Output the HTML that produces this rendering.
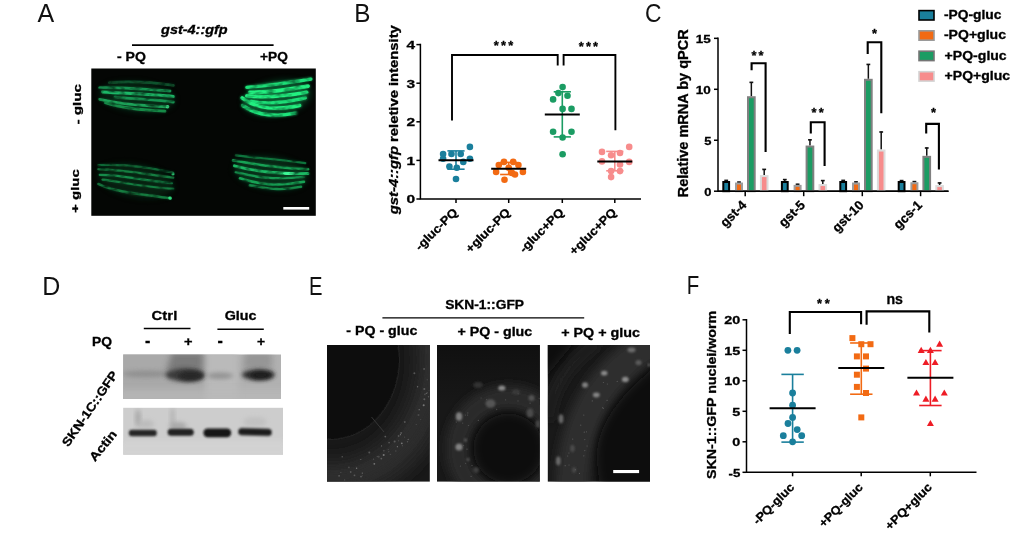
<!DOCTYPE html>
<html lang="en"><head><meta charset="utf-8"><title>Figure</title>
<style>
html,body{margin:0;padding:0;background:#fff;}
body{width:1020px;height:533px;overflow:hidden;}
svg{display:block;font-family:"Liberation Sans",sans-serif;}
text{stroke:#000;stroke-width:.3px;}
text.lt{stroke:none;}
</style></head><body>
<svg width="1020" height="533" viewBox="0 0 1020 533">
<defs>
<filter id="b06" x="-20%" y="-50%" width="140%" height="200%"><feGaussianBlur stdDeviation="0.6"/></filter>
<filter id="b1" x="-20%" y="-50%" width="140%" height="200%"><feGaussianBlur stdDeviation="1"/></filter>
<filter id="b2" x="-30%" y="-80%" width="160%" height="260%"><feGaussianBlur stdDeviation="2"/></filter>
<filter id="b3" x="-30%" y="-80%" width="160%" height="260%"><feGaussianBlur stdDeviation="3"/></filter>
<filter id="b5" x="-50%" y="-50%" width="200%" height="200%"><feGaussianBlur stdDeviation="5"/></filter>
<filter id="b8" x="-50%" y="-50%" width="200%" height="200%"><feGaussianBlur stdDeviation="8"/></filter>
<clipPath id="cA"><rect x="91.3" y="68.5" width="224.5" height="147.3"/></clipPath>
<clipPath id="cD1"><rect x="123.2" y="354.5" width="157.8" height="44.4"/></clipPath>
<clipPath id="cD2"><rect x="123.2" y="407.8" width="159.8" height="47"/></clipPath>
<clipPath id="cE1"><rect x="327" y="345" width="102.8" height="136.6"/></clipPath>
<clipPath id="cE2"><rect x="437" y="345" width="102.8" height="136.6"/></clipPath>
<clipPath id="cE3"><rect x="547.8" y="345" width="102.2" height="136.6"/></clipPath>
<linearGradient id="gE2" x1="0" y1="0" x2="0" y2="1"><stop offset="0" stop-color="#101010"/><stop offset="0.5" stop-color="#141414"/><stop offset="1" stop-color="#181818"/></linearGradient>
<filter id="grain" x="0" y="0" width="100%" height="100%" filterUnits="objectBoundingBox">
<feGaussianBlur in="SourceGraphic" stdDeviation="0.55" result="blur"/>
<feTurbulence type="fractalNoise" baseFrequency="0.12 0.26" numOctaves="2" seed="4" result="noise"/>
<feColorMatrix in="noise" type="matrix" values="0 0 0 0 0  0 0 0 0 0  0 0 0 0 0  2.4 0 0 0 -0.4" result="nalpha"/>
<feComposite in="blur" in2="nalpha" operator="in" result="cmp"/>
<feGaussianBlur in="cmp" stdDeviation="0.45"/>
</filter>
</defs>
<rect width="1020" height="533" fill="#fff"/>

<text x="37.5" y="22" font-size="25" font-weight="normal" text-anchor="start" fill="#111" class="lt">A</text>
<text x="354.2" y="22" font-size="25" font-weight="normal" text-anchor="start" fill="#111" textLength="16.2" lengthAdjust="spacingAndGlyphs" class="lt">B</text>
<text x="645" y="22" font-size="25" font-weight="normal" text-anchor="start" fill="#111" textLength="16.5" lengthAdjust="spacingAndGlyphs" class="lt">C</text>
<text x="42.2" y="294.5" font-size="25" font-weight="normal" text-anchor="start" fill="#111" class="lt">D</text>
<text x="308.9" y="294.5" font-size="25" font-weight="normal" text-anchor="start" fill="#111" textLength="13.5" lengthAdjust="spacingAndGlyphs" class="lt">E</text>
<text x="686.7" y="294" font-size="25" font-weight="normal" text-anchor="start" fill="#111" textLength="12.5" lengthAdjust="spacingAndGlyphs" class="lt">F</text>
<g id="panelA">
<text x="161.1" y="34.2" font-size="12.3" font-weight="bold" text-anchor="start" fill="#000" font-style="italic" textLength="66.6" lengthAdjust="spacingAndGlyphs">gst-4::gfp</text>
<line x1="132" y1="45.1" x2="273.6" y2="45.1" stroke="#000" stroke-width="1.6" stroke-linecap="butt"/>
<text x="117.0" y="60.8" font-size="12.2" font-weight="bold" text-anchor="start" fill="#000" textLength="28.9" lengthAdjust="spacingAndGlyphs">- PQ</text>
<text x="260.0" y="60.8" font-size="12.2" font-weight="bold" text-anchor="start" fill="#000" textLength="27.8" lengthAdjust="spacingAndGlyphs">+PQ</text>
<text x="80.5" y="124.5" font-size="11.5" font-weight="bold" text-anchor="start" fill="#000" transform="rotate(-90 80.5 124.5)" textLength="40.4" lengthAdjust="spacingAndGlyphs">- gluc</text>
<text x="78.6" y="212.9" font-size="11.5" font-weight="bold" text-anchor="start" fill="#000" transform="rotate(-90 78.6 212.9)" textLength="43.8" lengthAdjust="spacingAndGlyphs">+ gluc</text>
<rect x="91.3" y="68.5" width="224.5" height="147.3" fill="#040604"/>
<g clip-path="url(#cA)">
<ellipse cx="137" cy="97" rx="38" ry="15" fill="#0a4a28" opacity="0.4" filter="url(#b3)" transform="rotate(6 137 97)"/>
<ellipse cx="277" cy="98" rx="34" ry="17" fill="#0c6a3a" opacity="0.5" filter="url(#b3)" transform="rotate(-10 277 98)"/>
<ellipse cx="136" cy="181" rx="38" ry="16" fill="#08391f" opacity="0.5" filter="url(#b3)" transform="rotate(10 136 181)"/>
<ellipse cx="271" cy="173" rx="37" ry="16" fill="#0a4a28" opacity="0.5" filter="url(#b3)" transform="rotate(8 271 173)"/>
<path d="M246.9,87.4 C270.6,85.4 292.8,81.9 310.8,79.1" stroke="#1ee078" stroke-width="4.0" stroke-linecap="round" fill="none" opacity="0.5" filter="url(#b1)"/>
<path d="M249.7,92.3 C270.6,92.8 291.4,88.8 308.1,86.1" stroke="#22f080" stroke-width="4.2" stroke-linecap="round" fill="none" opacity="0.5" filter="url(#b1)"/>
<path d="M246.9,95.8 C267.8,98.4 287.2,95.8 306.7,92.3" stroke="#22f080" stroke-width="4.2" stroke-linecap="round" fill="none" opacity="0.5" filter="url(#b1)"/>
<path d="M251.1,101.3 C270.6,105 288.6,102 305.3,97.9" stroke="#1ee078" stroke-width="3.8000000000000003" stroke-linecap="round" fill="none" opacity="0.5" filter="url(#b1)"/>
<path d="M242.1,97.9 C253.9,107.5 273.3,110.8 299.7,105.5" stroke="#22f080" stroke-width="4.0" stroke-linecap="round" fill="none" opacity="0.5" filter="url(#b1)"/>
<path d="M242.8,105.5 C256.7,115.5 273.3,117.5 295.6,113.1" stroke="#1ee47a" stroke-width="4.0" stroke-linecap="round" fill="none" opacity="0.5" filter="url(#b1)"/>
<path d="M235.8,155.4 C256.7,158.2 277.5,158.9 305.3,163.1" stroke="#0f7a40" stroke-width="2.6" stroke-linecap="round" fill="none" opacity="0.3" filter="url(#b1)"/>
<path d="M233.1,160.3 C253.9,164.4 274.7,167.9 308.1,169.3" stroke="#16a858" stroke-width="3.0" stroke-linecap="round" fill="none" opacity="0.3" filter="url(#b1)"/>
<path d="M234.4,165.8 C256.7,172.1 277.5,174.2 308.1,173.5" stroke="#1bc068" stroke-width="3.1999999999999997" stroke-linecap="round" fill="none" opacity="0.3" filter="url(#b1)"/>
<path d="M235.8,172.1 C256.7,177.6 273.3,179.7 303.9,176.9" stroke="#14a055" stroke-width="2.8" stroke-linecap="round" fill="none" opacity="0.3" filter="url(#b1)"/>
<path d="M240,178.3 C259.4,184.6 277.5,186.7 303.9,181.8" stroke="#16a858" stroke-width="3.0" stroke-linecap="round" fill="none" opacity="0.3" filter="url(#b1)"/>
<path d="M249.7,185.3 C267.8,188.1 277.5,191.5 301.1,186.7" stroke="#12904c" stroke-width="2.8" stroke-linecap="round" fill="none" opacity="0.3" filter="url(#b1)"/>
<path d="M109.4,82.6 C125,81.5 150,81.9 173.3,85.4" stroke="#0d5a30" stroke-width="3.1999999999999997" stroke-linecap="round" fill="none" opacity="0.3" filter="url(#b1)"/>
<path d="M99.7,87.7 C124.7,87.0 145.6,89.5 170,91" stroke="#18a058" stroke-width="3.1999999999999997" stroke-linecap="round" fill="none" opacity="0.3" filter="url(#b1)"/>
<path d="M102.5,91.9 C131.7,93.7 152.5,94.4 173.3,96.5" stroke="#1fc870" stroke-width="3.4" stroke-linecap="round" fill="none" opacity="0.3" filter="url(#b1)"/>
<path d="M115,97.2 C138.6,99.3 159.4,99.9 173.3,102" stroke="#18a058" stroke-width="3.1999999999999997" stroke-linecap="round" fill="none" opacity="0.3" filter="url(#b1)"/>
<path d="M99.7,99.3 C117.8,103.4 138.6,105.5 167.8,106.9" stroke="#1bb060" stroke-width="3.1999999999999997" stroke-linecap="round" fill="none" opacity="0.3" filter="url(#b1)"/>
<path d="M105.3,102.7 C124.7,109 145.6,110.4 165,111.1" stroke="#169850" stroke-width="3.1999999999999997" stroke-linecap="round" fill="none" opacity="0.3" filter="url(#b1)"/>
<path d="M98.3,165.1 C124.7,163.8 152.5,167.9 173.3,172.8" stroke="#0f7a40" stroke-width="2.6" stroke-linecap="round" fill="none" opacity="0.25" filter="url(#b1)"/>
<path d="M98.3,169.3 C124.7,169.3 148.3,174.9 173.3,177.6" stroke="#12904c" stroke-width="2.6" stroke-linecap="round" fill="none" opacity="0.25" filter="url(#b1)"/>
<path d="M99.7,174.9 C124.7,174.9 145.6,181.1 171.9,183.2" stroke="#14a055" stroke-width="2.6" stroke-linecap="round" fill="none" opacity="0.25" filter="url(#b1)"/>
<path d="M102.5,179.7 C117.8,181.1 138.6,186.7 173.3,188.8" stroke="#12904c" stroke-width="2.6" stroke-linecap="round" fill="none" opacity="0.25" filter="url(#b1)"/>
<path d="M98.3,183.9 C115,192.2 138.6,193.6 170.6,198.5" stroke="#12904c" stroke-width="2.8" stroke-linecap="round" fill="none" opacity="0.25" filter="url(#b1)"/>
<g filter="url(#grain)">
<rect x="91" y="68" width="225" height="148" fill="none"/>
<path d="M109.4,82.6 C125,81.5 150,81.9 173.3,85.4" stroke="#0d5a30" stroke-width="2.8" stroke-linecap="round" fill="none" opacity="0.88" filter="url(#b06)"/>
<path d="M99.7,87.7 C124.7,87.0 145.6,89.5 170,91" stroke="#18a058" stroke-width="2.8" stroke-linecap="round" fill="none" opacity="0.88" filter="url(#b06)"/>
<path d="M102.5,91.9 C131.7,93.7 152.5,94.4 173.3,96.5" stroke="#1fc870" stroke-width="3.0" stroke-linecap="round" fill="none" opacity="0.88" filter="url(#b06)"/>
<path d="M115,97.2 C138.6,99.3 159.4,99.9 173.3,102" stroke="#18a058" stroke-width="2.8" stroke-linecap="round" fill="none" opacity="0.88" filter="url(#b06)"/>
<path d="M99.7,99.3 C117.8,103.4 138.6,105.5 167.8,106.9" stroke="#1bb060" stroke-width="2.8" stroke-linecap="round" fill="none" opacity="0.88" filter="url(#b06)"/>
<path d="M105.3,102.7 C124.7,109 145.6,110.4 165,111.1" stroke="#169850" stroke-width="2.8" stroke-linecap="round" fill="none" opacity="0.88" filter="url(#b06)"/>
<circle cx="167.5" cy="106.8" r="1.8" fill="#40f090" filter="url(#b06)"/>
<path d="M246.9,87.4 C270.6,85.4 292.8,81.9 310.8,79.1" stroke="#1ee078" stroke-width="3.4" stroke-linecap="round" fill="none" opacity="1" filter="url(#b06)"/>
<path d="M249.7,92.3 C270.6,92.8 291.4,88.8 308.1,86.1" stroke="#22f080" stroke-width="3.6" stroke-linecap="round" fill="none" opacity="1" filter="url(#b06)"/>
<path d="M246.9,95.8 C267.8,98.4 287.2,95.8 306.7,92.3" stroke="#22f080" stroke-width="3.6" stroke-linecap="round" fill="none" opacity="1" filter="url(#b06)"/>
<path d="M251.1,101.3 C270.6,105 288.6,102 305.3,97.9" stroke="#1ee078" stroke-width="3.2" stroke-linecap="round" fill="none" opacity="1" filter="url(#b06)"/>
<path d="M242.1,97.9 C253.9,107.5 273.3,110.8 299.7,105.5" stroke="#22f080" stroke-width="3.4" stroke-linecap="round" fill="none" opacity="1" filter="url(#b06)"/>
<path d="M242.8,105.5 C256.7,115.5 273.3,117.5 295.6,113.1" stroke="#1ee47a" stroke-width="3.4" stroke-linecap="round" fill="none" opacity="1" filter="url(#b06)"/>
<path d="M98.3,165.1 C124.7,163.8 152.5,167.9 173.3,172.8" stroke="#0f7a40" stroke-width="2.2" stroke-linecap="round" fill="none" opacity="0.8" filter="url(#b06)"/>
<path d="M98.3,169.3 C124.7,169.3 148.3,174.9 173.3,177.6" stroke="#12904c" stroke-width="2.2" stroke-linecap="round" fill="none" opacity="0.8" filter="url(#b06)"/>
<path d="M99.7,174.9 C124.7,174.9 145.6,181.1 171.9,183.2" stroke="#14a055" stroke-width="2.2" stroke-linecap="round" fill="none" opacity="0.8" filter="url(#b06)"/>
<path d="M102.5,179.7 C117.8,181.1 138.6,186.7 173.3,188.8" stroke="#12904c" stroke-width="2.2" stroke-linecap="round" fill="none" opacity="0.8" filter="url(#b06)"/>
<path d="M98.3,183.9 C115,192.2 138.6,193.6 170.6,198.5" stroke="#12904c" stroke-width="2.4" stroke-linecap="round" fill="none" opacity="0.8" filter="url(#b06)"/>
<circle cx="173" cy="174" r="1.6" fill="#30e080" filter="url(#b06)"/>
<circle cx="170" cy="198" r="1.8" fill="#30e080" filter="url(#b06)"/>
<path d="M235.8,155.4 C256.7,158.2 277.5,158.9 305.3,163.1" stroke="#0f7a40" stroke-width="2.2" stroke-linecap="round" fill="none" opacity="0.95" filter="url(#b06)"/>
<path d="M233.1,160.3 C253.9,164.4 274.7,167.9 308.1,169.3" stroke="#16a858" stroke-width="2.6" stroke-linecap="round" fill="none" opacity="0.95" filter="url(#b06)"/>
<path d="M234.4,165.8 C256.7,172.1 277.5,174.2 308.1,173.5" stroke="#1bc068" stroke-width="2.8" stroke-linecap="round" fill="none" opacity="0.95" filter="url(#b06)"/>
<path d="M235.8,172.1 C256.7,177.6 273.3,179.7 303.9,176.9" stroke="#14a055" stroke-width="2.4" stroke-linecap="round" fill="none" opacity="0.95" filter="url(#b06)"/>
<path d="M240,178.3 C259.4,184.6 277.5,186.7 303.9,181.8" stroke="#16a858" stroke-width="2.6" stroke-linecap="round" fill="none" opacity="0.95" filter="url(#b06)"/>
<path d="M249.7,185.3 C267.8,188.1 277.5,191.5 301.1,186.7" stroke="#12904c" stroke-width="2.4" stroke-linecap="round" fill="none" opacity="0.95" filter="url(#b06)"/>
<ellipse cx="289" cy="173.5" rx="6" ry="1.6" fill="#40f898" filter="url(#b06)"/>
</g>
</g>
<rect x="283.3" y="207" width="25.9" height="2.6" fill="#fff"/>
</g>
<g id="panelB">
<path d="M420.4,43.85 V199.0 H641" stroke="#000" stroke-width="1.5" fill="none" />
<line x1="416.4" y1="199.0" x2="420.4" y2="199.0" stroke="#000" stroke-width="1.5" stroke-linecap="butt"/>
<text x="406.5" y="203.3" font-size="11.5" font-weight="bold" text-anchor="start" fill="#000" textLength="8.6" lengthAdjust="spacingAndGlyphs">0</text>
<line x1="416.4" y1="160.4" x2="420.4" y2="160.4" stroke="#000" stroke-width="1.5" stroke-linecap="butt"/>
<text x="406.5" y="164.70000000000002" font-size="11.5" font-weight="bold" text-anchor="start" fill="#000" textLength="8.6" lengthAdjust="spacingAndGlyphs">1</text>
<line x1="416.4" y1="121.8" x2="420.4" y2="121.8" stroke="#000" stroke-width="1.5" stroke-linecap="butt"/>
<text x="406.5" y="126.1" font-size="11.5" font-weight="bold" text-anchor="start" fill="#000" textLength="8.6" lengthAdjust="spacingAndGlyphs">2</text>
<line x1="416.4" y1="83.2" x2="420.4" y2="83.2" stroke="#000" stroke-width="1.5" stroke-linecap="butt"/>
<text x="406.5" y="87.5" font-size="11.5" font-weight="bold" text-anchor="start" fill="#000" textLength="8.6" lengthAdjust="spacingAndGlyphs">3</text>
<line x1="416.4" y1="44.6" x2="420.4" y2="44.6" stroke="#000" stroke-width="1.5" stroke-linecap="butt"/>
<text x="406.5" y="48.9" font-size="11.5" font-weight="bold" text-anchor="start" fill="#000" textLength="8.6" lengthAdjust="spacingAndGlyphs">4</text>
<line x1="456" y1="199.0" x2="456" y2="203.0" stroke="#000" stroke-width="1.5" stroke-linecap="butt"/>
<line x1="508.7" y1="199.0" x2="508.7" y2="203.0" stroke="#000" stroke-width="1.5" stroke-linecap="butt"/>
<line x1="562.3" y1="199.0" x2="562.3" y2="203.0" stroke="#000" stroke-width="1.5" stroke-linecap="butt"/>
<line x1="614.8" y1="199.0" x2="614.8" y2="203.0" stroke="#000" stroke-width="1.5" stroke-linecap="butt"/>
<text x="397.8" y="214.2" font-size="12" font-weight="bold" fill="#000" transform="rotate(-90 397.8 214.2)" textLength="189" lengthAdjust="spacingAndGlyphs"><tspan font-style="italic">gst-4::gfp</tspan> reletive intensity</text>
<circle cx="469.9" cy="146.9" r="3.3" fill="#1a7f9c"/>
<circle cx="443.1" cy="154" r="3.3" fill="#1a7f9c"/>
<circle cx="451.5" cy="154" r="3.3" fill="#1a7f9c"/>
<circle cx="460.7" cy="154" r="3.3" fill="#1a7f9c"/>
<circle cx="443.1" cy="158.8" r="3.3" fill="#1a7f9c"/>
<circle cx="469.9" cy="158.7" r="3.3" fill="#1a7f9c"/>
<circle cx="463.3" cy="161.9" r="3.3" fill="#1a7f9c"/>
<circle cx="449.4" cy="166.6" r="3.3" fill="#1a7f9c"/>
<circle cx="456.8" cy="167.7" r="3.3" fill="#1a7f9c"/>
<circle cx="456" cy="179" r="3.3" fill="#1a7f9c"/>
<line x1="456" y1="150.9" x2="456" y2="169.2" stroke="#1a7f9c" stroke-width="1.6" stroke-linecap="butt"/>
<line x1="447.4" y1="150.9" x2="464.6" y2="150.9" stroke="#1a7f9c" stroke-width="1.6" stroke-linecap="butt"/>
<line x1="447.4" y1="169.2" x2="464.6" y2="169.2" stroke="#1a7f9c" stroke-width="1.6" stroke-linecap="butt"/>
<line x1="438.5" y1="160.3" x2="473.5" y2="160.3" stroke="#000" stroke-width="2.0" stroke-linecap="butt"/>
<circle cx="504" cy="161.9" r="3.3" fill="#f26a13"/>
<circle cx="513.2" cy="161.9" r="3.3" fill="#f26a13"/>
<circle cx="498.8" cy="165" r="3.3" fill="#f26a13"/>
<circle cx="518.4" cy="165" r="3.3" fill="#f26a13"/>
<circle cx="508.7" cy="167.7" r="3.3" fill="#f26a13"/>
<circle cx="496.1" cy="171.9" r="3.3" fill="#f26a13"/>
<circle cx="522.9" cy="171.9" r="3.3" fill="#f26a13"/>
<circle cx="511.9" cy="172.9" r="3.3" fill="#f26a13"/>
<circle cx="515" cy="174.5" r="3.3" fill="#f26a13"/>
<circle cx="504.5" cy="179.7" r="3.3" fill="#f26a13"/>
<line x1="508.7" y1="162.4" x2="508.7" y2="174.5" stroke="#f26a13" stroke-width="1.6" stroke-linecap="butt"/>
<line x1="500.09999999999997" y1="162.4" x2="517.3" y2="162.4" stroke="#f26a13" stroke-width="1.6" stroke-linecap="butt"/>
<line x1="500.09999999999997" y1="174.5" x2="517.3" y2="174.5" stroke="#f26a13" stroke-width="1.6" stroke-linecap="butt"/>
<line x1="491.2" y1="168.7" x2="526.2" y2="168.7" stroke="#000" stroke-width="2.0" stroke-linecap="butt"/>
<circle cx="562.6" cy="87.1" r="3.3" fill="#1b9c63"/>
<circle cx="558.4" cy="93.1" r="3.3" fill="#1b9c63"/>
<circle cx="567.5" cy="95.7" r="3.3" fill="#1b9c63"/>
<circle cx="553.1" cy="99.4" r="3.3" fill="#1b9c63"/>
<circle cx="562.6" cy="108.9" r="3.3" fill="#1b9c63"/>
<circle cx="571.5" cy="108.9" r="3.3" fill="#1b9c63"/>
<circle cx="553.1" cy="131.7" r="3.3" fill="#1b9c63"/>
<circle cx="571.5" cy="131.7" r="3.3" fill="#1b9c63"/>
<circle cx="562.6" cy="137.5" r="3.3" fill="#1b9c63"/>
<circle cx="562.6" cy="154.3" r="3.3" fill="#1b9c63"/>
<line x1="562.3" y1="91.8" x2="562.3" y2="136.9" stroke="#1b9c63" stroke-width="1.6" stroke-linecap="butt"/>
<line x1="553.6999999999999" y1="91.8" x2="570.9" y2="91.8" stroke="#1b9c63" stroke-width="1.6" stroke-linecap="butt"/>
<line x1="553.6999999999999" y1="136.9" x2="570.9" y2="136.9" stroke="#1b9c63" stroke-width="1.6" stroke-linecap="butt"/>
<line x1="544.8" y1="114.6" x2="579.8" y2="114.6" stroke="#000" stroke-width="2.0" stroke-linecap="butt"/>
<circle cx="629.2" cy="146.9" r="3.3" fill="#f78c8c"/>
<circle cx="602" cy="151.9" r="3.3" fill="#f78c8c"/>
<circle cx="620" cy="153" r="3.3" fill="#f78c8c"/>
<circle cx="611.1" cy="155.3" r="3.3" fill="#f78c8c"/>
<circle cx="602" cy="161.4" r="3.3" fill="#f78c8c"/>
<circle cx="629.2" cy="161.9" r="3.3" fill="#f78c8c"/>
<circle cx="620" cy="164.5" r="3.3" fill="#f78c8c"/>
<circle cx="611.1" cy="171.1" r="3.3" fill="#f78c8c"/>
<circle cx="620" cy="171.1" r="3.3" fill="#f78c8c"/>
<circle cx="611.1" cy="177.1" r="3.3" fill="#f78c8c"/>
<line x1="614.8" y1="151.4" x2="614.8" y2="170.8" stroke="#f78c8c" stroke-width="1.6" stroke-linecap="butt"/>
<line x1="606.1999999999999" y1="151.4" x2="623.4" y2="151.4" stroke="#f78c8c" stroke-width="1.6" stroke-linecap="butt"/>
<line x1="606.1999999999999" y1="170.8" x2="623.4" y2="170.8" stroke="#f78c8c" stroke-width="1.6" stroke-linecap="butt"/>
<line x1="597.3" y1="161.4" x2="632.3" y2="161.4" stroke="#000" stroke-width="2.0" stroke-linecap="butt"/>
<path d="M452,120.6 V55 H557.7 V65.4" stroke="#000" stroke-width="1.9" fill="none" />
<path d="M563.6,65.4 V55 H615.4 V130.3" stroke="#000" stroke-width="1.9" fill="none" />
<text x="493.8" y="50.3" font-size="12.8" font-weight="bold" text-anchor="start" fill="#000" textLength="19.4" lengthAdjust="spacing">***</text>
<text x="578.8" y="50.8" font-size="12.8" font-weight="bold" text-anchor="start" fill="#000" textLength="19.3" lengthAdjust="spacing">***</text>
<text x="458.3" y="213" font-size="12" font-weight="bold" text-anchor="end" fill="#000" transform="rotate(-45 458.3 213)" textLength="54" lengthAdjust="spacingAndGlyphs">-gluc-PQ</text>
<text x="511.0" y="213" font-size="12" font-weight="bold" text-anchor="end" fill="#000" transform="rotate(-45 511.0 213)" textLength="57.2" lengthAdjust="spacingAndGlyphs">+gluc-PQ</text>
<text x="564.5999999999999" y="213" font-size="12" font-weight="bold" text-anchor="end" fill="#000" transform="rotate(-45 564.5999999999999 213)" textLength="57.2" lengthAdjust="spacingAndGlyphs">-gluc+PQ</text>
<text x="617.0999999999999" y="213" font-size="12" font-weight="bold" text-anchor="end" fill="#000" transform="rotate(-45 617.0999999999999 213)" textLength="60.5" lengthAdjust="spacingAndGlyphs">+gluc+PQ</text>
</g>
<g id="panelC">
<path d="M718.0,37.6 V191.2 H948.5" stroke="#000" stroke-width="1.5" fill="none" />
<line x1="714.0" y1="191.2" x2="718.0" y2="191.2" stroke="#000" stroke-width="1.5" stroke-linecap="butt"/>
<text x="704.2" y="195.6" font-size="11.7" font-weight="bold" text-anchor="start" fill="#000" textLength="7.2" lengthAdjust="spacingAndGlyphs">0</text>
<line x1="714.0" y1="140.25" x2="718.0" y2="140.25" stroke="#000" stroke-width="1.5" stroke-linecap="butt"/>
<text x="704.2" y="144.65" font-size="11.7" font-weight="bold" text-anchor="start" fill="#000" textLength="7.2" lengthAdjust="spacingAndGlyphs">5</text>
<line x1="714.0" y1="89.3" x2="718.0" y2="89.3" stroke="#000" stroke-width="1.5" stroke-linecap="butt"/>
<text x="695.8" y="93.7" font-size="11.7" font-weight="bold" text-anchor="start" fill="#000" textLength="15.0" lengthAdjust="spacingAndGlyphs">10</text>
<line x1="714.0" y1="38.35" x2="718.0" y2="38.35" stroke="#000" stroke-width="1.5" stroke-linecap="butt"/>
<text x="695.8" y="42.75" font-size="11.7" font-weight="bold" text-anchor="start" fill="#000" textLength="15.0" lengthAdjust="spacingAndGlyphs">15</text>
<line x1="745.2" y1="191.2" x2="745.2" y2="196.2" stroke="#000" stroke-width="1.5" stroke-linecap="butt"/>
<line x1="803.7" y1="191.2" x2="803.7" y2="196.2" stroke="#000" stroke-width="1.5" stroke-linecap="butt"/>
<line x1="862.3" y1="191.2" x2="862.3" y2="196.2" stroke="#000" stroke-width="1.5" stroke-linecap="butt"/>
<line x1="920.6" y1="191.2" x2="920.6" y2="196.2" stroke="#000" stroke-width="1.5" stroke-linecap="butt"/>
<text x="688.4" y="197.2" font-size="14" font-weight="bold" text-anchor="start" fill="#000" transform="rotate(-90 688.4 197.2)" textLength="167.9" lengthAdjust="spacingAndGlyphs">Relative mRNA by qPCR</text>
<line x1="726.1999999999999" y1="179.99" x2="726.1999999999999" y2="181.01" stroke="#111" stroke-width="1.5" stroke-linecap="butt"/>
<line x1="724.3" y1="180.39000000000001" x2="728.0999999999999" y2="180.39000000000001" stroke="#111" stroke-width="1.6" stroke-linecap="butt"/>
<rect x="723.30" y="182.01" width="5.80" height="9.19" fill="#1a7f9c" stroke="#000" stroke-width="2.0"/>
<line x1="739.0" y1="181.72" x2="739.0" y2="182.54" stroke="#111" stroke-width="1.5" stroke-linecap="butt"/>
<line x1="737.1" y1="182.12" x2="740.9" y2="182.12" stroke="#111" stroke-width="1.6" stroke-linecap="butt"/>
<rect x="736.00" y="183.54" width="6.00" height="7.66" fill="#f26a13" stroke="#9c9c9c" stroke-width="2.0"/>
<line x1="751.35" y1="81.96" x2="751.35" y2="96.23" stroke="#111" stroke-width="1.5" stroke-linecap="butt"/>
<line x1="749.45" y1="82.36" x2="753.25" y2="82.36" stroke="#111" stroke-width="1.6" stroke-linecap="butt"/>
<rect x="748.00" y="97.23" width="6.70" height="93.97" fill="#1b9c63" stroke="#808080" stroke-width="2.0"/>
<line x1="764.1999999999999" y1="168.99" x2="764.1999999999999" y2="175.1" stroke="#111" stroke-width="1.5" stroke-linecap="butt"/>
<line x1="762.3" y1="169.39000000000001" x2="766.0999999999999" y2="169.39000000000001" stroke="#111" stroke-width="1.6" stroke-linecap="butt"/>
<rect x="760.90" y="176.10" width="6.60" height="15.10" fill="#f78c8c" stroke="#dcdcdc" stroke-width="2.0"/>
<line x1="784.8" y1="179.18" x2="784.8" y2="181.01" stroke="#111" stroke-width="1.5" stroke-linecap="butt"/>
<line x1="782.9" y1="179.58" x2="786.6999999999999" y2="179.58" stroke="#111" stroke-width="1.6" stroke-linecap="butt"/>
<rect x="781.90" y="182.01" width="5.80" height="9.19" fill="#1a7f9c" stroke="#000" stroke-width="2.0"/>
<line x1="797.6" y1="183.86" x2="797.6" y2="184.88" stroke="#111" stroke-width="1.5" stroke-linecap="butt"/>
<line x1="795.7" y1="184.26000000000002" x2="799.5" y2="184.26000000000002" stroke="#111" stroke-width="1.6" stroke-linecap="butt"/>
<rect x="794.60" y="185.88" width="6.00" height="5.32" fill="#f26a13" stroke="#9c9c9c" stroke-width="2.0"/>
<line x1="809.95" y1="139.43" x2="809.95" y2="145.55" stroke="#111" stroke-width="1.5" stroke-linecap="butt"/>
<line x1="808.0500000000001" y1="139.83" x2="811.85" y2="139.83" stroke="#111" stroke-width="1.6" stroke-linecap="butt"/>
<rect x="806.60" y="146.55" width="6.70" height="44.65" fill="#1b9c63" stroke="#808080" stroke-width="2.0"/>
<line x1="822.8" y1="180.19" x2="822.8" y2="184.07" stroke="#111" stroke-width="1.5" stroke-linecap="butt"/>
<line x1="820.9" y1="180.59" x2="824.6999999999999" y2="180.59" stroke="#111" stroke-width="1.6" stroke-linecap="butt"/>
<rect x="819.50" y="185.07" width="6.60" height="6.13" fill="#f78c8c" stroke="#dcdcdc" stroke-width="2.0"/>
<line x1="843.1999999999999" y1="179.99" x2="843.1999999999999" y2="181.01" stroke="#111" stroke-width="1.5" stroke-linecap="butt"/>
<line x1="841.3" y1="180.39000000000001" x2="845.0999999999999" y2="180.39000000000001" stroke="#111" stroke-width="1.6" stroke-linecap="butt"/>
<rect x="840.30" y="182.01" width="5.80" height="9.19" fill="#1a7f9c" stroke="#000" stroke-width="2.0"/>
<line x1="856.0" y1="181.52" x2="856.0" y2="182.54" stroke="#111" stroke-width="1.5" stroke-linecap="butt"/>
<line x1="854.1" y1="181.92000000000002" x2="857.9" y2="181.92000000000002" stroke="#111" stroke-width="1.6" stroke-linecap="butt"/>
<rect x="853.00" y="183.54" width="6.00" height="7.66" fill="#f26a13" stroke="#9c9c9c" stroke-width="2.0"/>
<line x1="868.35" y1="64.03" x2="868.35" y2="78.8" stroke="#111" stroke-width="1.5" stroke-linecap="butt"/>
<line x1="866.45" y1="64.43" x2="870.25" y2="64.43" stroke="#111" stroke-width="1.6" stroke-linecap="butt"/>
<rect x="865.00" y="79.80" width="6.70" height="111.40" fill="#1b9c63" stroke="#808080" stroke-width="2.0"/>
<line x1="881.1999999999999" y1="131.59" x2="881.1999999999999" y2="149.52" stroke="#111" stroke-width="1.5" stroke-linecap="butt"/>
<line x1="879.3" y1="131.99" x2="883.0999999999999" y2="131.99" stroke="#111" stroke-width="1.6" stroke-linecap="butt"/>
<rect x="877.90" y="150.52" width="6.60" height="40.68" fill="#f78c8c" stroke="#dcdcdc" stroke-width="2.0"/>
<line x1="901.6" y1="180.19" x2="901.6" y2="181.01" stroke="#111" stroke-width="1.5" stroke-linecap="butt"/>
<line x1="899.7" y1="180.59" x2="903.5" y2="180.59" stroke="#111" stroke-width="1.6" stroke-linecap="butt"/>
<rect x="898.70" y="182.01" width="5.80" height="9.19" fill="#1a7f9c" stroke="#000" stroke-width="2.0"/>
<line x1="914.4000000000001" y1="181.21" x2="914.4000000000001" y2="182.23" stroke="#111" stroke-width="1.5" stroke-linecap="butt"/>
<line x1="912.5000000000001" y1="181.61" x2="916.3000000000001" y2="181.61" stroke="#111" stroke-width="1.6" stroke-linecap="butt"/>
<rect x="911.40" y="183.23" width="6.00" height="7.97" fill="#f26a13" stroke="#9c9c9c" stroke-width="2.0"/>
<line x1="926.7500000000001" y1="147.59" x2="926.7500000000001" y2="155.84" stroke="#111" stroke-width="1.5" stroke-linecap="butt"/>
<line x1="924.8500000000001" y1="147.99" x2="928.6500000000001" y2="147.99" stroke="#111" stroke-width="1.6" stroke-linecap="butt"/>
<rect x="923.40" y="156.84" width="6.70" height="34.36" fill="#1b9c63" stroke="#808080" stroke-width="2.0"/>
<line x1="939.6" y1="182.54" x2="939.6" y2="185.09" stroke="#111" stroke-width="1.5" stroke-linecap="butt"/>
<line x1="937.7" y1="182.94" x2="941.5" y2="182.94" stroke="#111" stroke-width="1.6" stroke-linecap="butt"/>
<rect x="936.30" y="186.09" width="6.60" height="5.11" fill="#f78c8c" stroke="#dcdcdc" stroke-width="2.0"/>
<line x1="718.0" y1="191.2" x2="948.5" y2="191.2" stroke="#000" stroke-width="1.6" stroke-linecap="butt"/>
<path d="M751.6,70.3 V63.2 H765.6 V152" stroke="#000" stroke-width="2.1" fill="none" />
<path d="M810.8,133.4 V122.2 H824.6 V166" stroke="#000" stroke-width="2.1" fill="none" />
<path d="M867.7,54 V42.3 H881.3 V113.3" stroke="#000" stroke-width="2.1" fill="none" />
<path d="M926.2,133.6 V123.9 H938.9 V169.4" stroke="#000" stroke-width="2.1" fill="none" />
<text x="751.6" y="60.3" font-size="12.8" font-weight="bold" text-anchor="start" fill="#000" textLength="12.0" lengthAdjust="spacing">**</text>
<text x="811.5" y="117" font-size="12.8" font-weight="bold" text-anchor="start" fill="#000" textLength="12.3" lengthAdjust="spacing">**</text>
<text x="874.5" y="38.4" font-size="12.8" font-weight="bold" text-anchor="middle" fill="#000">*</text>
<text x="933.6" y="117.3" font-size="12.8" font-weight="bold" text-anchor="middle" fill="#000">*</text>
<text x="747.4000000000001" y="205.8" font-size="13" font-weight="bold" text-anchor="end" fill="#000" transform="rotate(-45 747.4000000000001 205.8)">gst-4</text>
<text x="805.9000000000001" y="205.8" font-size="13" font-weight="bold" text-anchor="end" fill="#000" transform="rotate(-45 805.9000000000001 205.8)">gst-5</text>
<text x="864.5" y="205.8" font-size="13" font-weight="bold" text-anchor="end" fill="#000" transform="rotate(-45 864.5 205.8)">gst-10</text>
<text x="922.8000000000001" y="205.8" font-size="13" font-weight="bold" text-anchor="end" fill="#000" transform="rotate(-45 922.8000000000001 205.8)">gcs-1</text>
<rect x="919" y="10.600000000000001" width="15" height="9.4" fill="#1a7f9c" stroke="#000" stroke-width="1.6"/>
<text x="943.9" y="19.0" font-size="12.3" font-weight="bold" text-anchor="start" fill="#000" textLength="57.5" lengthAdjust="spacingAndGlyphs">-PQ-gluc</text>
<rect x="919" y="30.8" width="15" height="9.4" fill="#f26a13" stroke="#9a9a9a" stroke-width="1.6"/>
<text x="943.9" y="39.2" font-size="12.3" font-weight="bold" text-anchor="start" fill="#000" textLength="62.1" lengthAdjust="spacingAndGlyphs">-PQ+gluc</text>
<rect x="919" y="51.199999999999996" width="15" height="9.4" fill="#1b9c63" stroke="#757575" stroke-width="1.6"/>
<text x="944.6" y="59.599999999999994" font-size="12.3" font-weight="bold" text-anchor="start" fill="#000" textLength="62.1" lengthAdjust="spacingAndGlyphs">+PQ-gluc</text>
<rect x="919" y="71.7" width="15" height="9.4" fill="#f78c8c" stroke="#d4d4d4" stroke-width="1.6"/>
<text x="944.6" y="80.10000000000001" font-size="12.3" font-weight="bold" text-anchor="start" fill="#000" textLength="65.5" lengthAdjust="spacingAndGlyphs">+PQ+gluc</text>
</g>
<g id="panelD">
<text x="151.6" y="320" font-size="12.6" font-weight="bold" text-anchor="start" fill="#000" textLength="25.7" lengthAdjust="spacingAndGlyphs">Ctrl</text>
<text x="224.7" y="320" font-size="12.6" font-weight="bold" text-anchor="start" fill="#000" textLength="31.8" lengthAdjust="spacingAndGlyphs">Gluc</text>
<line x1="143.8" y1="328.6" x2="190.5" y2="328.6" stroke="#000" stroke-width="1.5" stroke-linecap="butt"/>
<line x1="217.4" y1="329.2" x2="263.8" y2="329.2" stroke="#000" stroke-width="1.5" stroke-linecap="butt"/>
<text x="92.0" y="345.5" font-size="12.2" font-weight="bold" text-anchor="start" fill="#000" textLength="20.0" lengthAdjust="spacingAndGlyphs">PQ</text>
<text x="184.0" y="345.6" font-size="12.5" font-weight="bold" text-anchor="start" fill="#000" textLength="8.5" lengthAdjust="spacingAndGlyphs">+</text>
<text x="256.9" y="345.6" font-size="12.5" font-weight="bold" text-anchor="start" fill="#000" textLength="8.1" lengthAdjust="spacingAndGlyphs">+</text>
<text x="147.55" y="346.4" font-size="16" font-weight="bold" text-anchor="middle" fill="#000">-</text>
<text x="220.1" y="346.4" font-size="16" font-weight="bold" text-anchor="middle" fill="#000">-</text>
<rect x="123.2" y="354.5" width="157.8" height="44.4" fill="#b1b1b1"/>
<g clip-path="url(#cD1)">
<rect x="118" y="350" width="88" height="54" fill="#a9a9a9" filter="url(#b3)"/>
<rect x="206" y="350" width="32" height="54" fill="#bababa" filter="url(#b3)"/>
<rect x="118" y="389" width="170" height="14" fill="#b9b9b9" opacity="0.7" filter="url(#b3)"/>
<path d="M172,352 H203 V372 H166 Z" fill="#6c6c6c" opacity="0.75" filter="url(#b3)"/>
<path d="M245,352 H272 V370 H243 Z" fill="#8a8a8a" opacity="0.7" filter="url(#b3)"/>
<ellipse cx="146" cy="373.8" rx="24" ry="3.4" fill="#8a8a8a" opacity="0.8" filter="url(#b2)"/>
<ellipse cx="185" cy="374.8" rx="19.5" ry="6.6" fill="#3a3a3a" filter="url(#b2)"/>
<ellipse cx="191" cy="376" rx="12.5" ry="5" fill="#262626" filter="url(#b2)"/>
<ellipse cx="220" cy="375.8" rx="13" ry="3.2" fill="#8c8c8c" opacity="0.85" filter="url(#b2)"/>
<ellipse cx="258.3" cy="374.8" rx="16.5" ry="5.4" fill="#2e2e2e" filter="url(#b2)"/>
<ellipse cx="261" cy="375.2" rx="11" ry="3.8" fill="#1e1e1e" filter="url(#b2)"/>
</g>
<rect x="123.2" y="407.8" width="159.8" height="47" fill="#cdcdcd"/>
<g clip-path="url(#cD2)">
<rect x="118" y="440" width="170" height="18" fill="#d4d4d4" opacity="0.8" filter="url(#b3)"/>
<ellipse cx="138" cy="418" rx="2.6" ry="9" fill="#9a9a9a" opacity="0.75" filter="url(#b2)"/>
<ellipse cx="172.5" cy="417" rx="2.2" ry="10" fill="#a8a8a8" opacity="0.7" filter="url(#b2)"/>
<ellipse cx="178" cy="426" rx="9" ry="4" fill="#9a9a9a" opacity="0.7" filter="url(#b2)"/>
<ellipse cx="146" cy="424" rx="8" ry="4" fill="#b4b4b4" opacity="0.7" filter="url(#b2)"/>
<ellipse cx="255" cy="422" rx="12" ry="5" fill="#bcbcbc" opacity="0.7" filter="url(#b2)"/>
<rect x="128.8" y="429.8" width="28" height="6.4" rx="3.2" fill="#262626" filter="url(#b1)"/>
<rect x="167.6" y="428.8" width="26.2" height="7" rx="3.5" fill="#242424" filter="url(#b1)"/>
<rect x="203.4" y="428.4" width="27.8" height="8.8" rx="4.2" fill="#141414" filter="url(#b1)"/>
<rect x="238.2" y="428.6" width="33.6" height="7" rx="3.5" fill="#1c1c1c" filter="url(#b1)" transform="rotate(1.5 255 432)"/>
</g>
<text x="118.5" y="374.6" font-size="12.3" font-weight="bold" text-anchor="end" fill="#000" transform="rotate(-55.5 118.5 374.6)" textLength="88.5" lengthAdjust="spacingAndGlyphs">SKN-1C::GFP</text>
<text x="117.5" y="434.5" font-size="12.3" font-weight="bold" text-anchor="end" fill="#000" transform="rotate(-51 117.5 434.5)" textLength="35.8" lengthAdjust="spacingAndGlyphs">Actin</text>
</g>
<g id="panelE">
<text x="484.6" y="309.4" font-size="12.5" font-weight="bold" text-anchor="middle" fill="#000" textLength="78.8" lengthAdjust="spacingAndGlyphs">SKN-1::GFP</text>
<line x1="382.4" y1="317.8" x2="584.2" y2="317.8" stroke="#000" stroke-width="1.3" stroke-linecap="butt"/>
<text x="346.3" y="334.5" font-size="12.5" font-weight="bold" text-anchor="start" fill="#000" textLength="71" lengthAdjust="spacingAndGlyphs">- PQ - gluc</text>
<text x="457.6" y="336" font-size="12.5" font-weight="bold" text-anchor="start" fill="#000" textLength="74.6" lengthAdjust="spacingAndGlyphs">+ PQ - gluc</text>
<text x="561.2" y="336.5" font-size="12.5" font-weight="bold" text-anchor="start" fill="#000" textLength="78.8" lengthAdjust="spacingAndGlyphs">+ PQ + gluc</text>
<rect x="327" y="345" width="102.8" height="136.6" fill="#181818"/>
<g clip-path="url(#cE1)">
<ellipse cx="331" cy="360" rx="104" ry="120" fill="none" stroke="#2b2b2b" stroke-width="40" filter="url(#b8)"/>
<ellipse cx="331" cy="360" rx="102" ry="118" fill="none" stroke="#303030" stroke-width="14" opacity="0.6" filter="url(#b5)"/>
<ellipse cx="331" cy="360" rx="67.5" ry="78.5" fill="#0e0e0e" filter="url(#b06)"/>
<ellipse cx="331" cy="360" rx="68.5" ry="79.5" fill="none" stroke="#222" stroke-width="1" filter="url(#b06)"/>
<circle cx="420.6" cy="419.4" r="0.5" fill="#4a4a4a" filter="url(#b06)"/>
<circle cx="434.5" cy="382.6" r="1.0" fill="#555" filter="url(#b06)"/>
<circle cx="350.7" cy="472.0" r="0.9" fill="#555" filter="url(#b06)"/>
<circle cx="423.7" cy="405.3" r="1.0" fill="#777" filter="url(#b06)"/>
<circle cx="414.4" cy="373.2" r="1.0" fill="#555" filter="url(#b06)"/>
<circle cx="389.1" cy="442.6" r="0.9" fill="#555" filter="url(#b06)"/>
<circle cx="342.5" cy="486.5" r="0.7" fill="#777" filter="url(#b06)"/>
<circle cx="429.1" cy="390.2" r="0.5" fill="#4a4a4a" filter="url(#b06)"/>
<circle cx="418.5" cy="415.1" r="1.0" fill="#4a4a4a" filter="url(#b06)"/>
<circle cx="383.9" cy="450.7" r="0.7" fill="#555" filter="url(#b06)"/>
<circle cx="397.4" cy="446.7" r="0.6" fill="#777" filter="url(#b06)"/>
<circle cx="381.3" cy="458.6" r="0.9" fill="#5a5a5a" filter="url(#b06)"/>
<circle cx="408.2" cy="439.4" r="0.6" fill="#666" filter="url(#b06)"/>
<circle cx="377.3" cy="456.5" r="0.6" fill="#555" filter="url(#b06)"/>
<circle cx="385.3" cy="436.6" r="0.9" fill="#5a5a5a" filter="url(#b06)"/>
<circle cx="388.2" cy="449.4" r="0.5" fill="#555" filter="url(#b06)"/>
<circle cx="401.8" cy="443.3" r="0.9" fill="#777" filter="url(#b06)"/>
<circle cx="433.3" cy="372.7" r="0.5" fill="#4a4a4a" filter="url(#b06)"/>
<circle cx="395.8" cy="451.0" r="0.7" fill="#4a4a4a" filter="url(#b06)"/>
<circle cx="398.6" cy="436.0" r="0.9" fill="#555" filter="url(#b06)"/>
<circle cx="362.2" cy="475.8" r="0.5" fill="#555" filter="url(#b06)"/>
<circle cx="373.5" cy="459.3" r="0.7" fill="#4a4a4a" filter="url(#b06)"/>
<circle cx="339.1" cy="475.8" r="0.9" fill="#5a5a5a" filter="url(#b06)"/>
<circle cx="424.1" cy="368.9" r="0.9" fill="#5a5a5a" filter="url(#b06)"/>
<circle cx="426.3" cy="393.4" r="0.7" fill="#666" filter="url(#b06)"/>
<circle cx="374.3" cy="463.8" r="0.9" fill="#777" filter="url(#b06)"/>
<circle cx="348.9" cy="467.3" r="0.9" fill="#4a4a4a" filter="url(#b06)"/>
<circle cx="419.2" cy="409.7" r="0.6" fill="#777" filter="url(#b06)"/>
<circle cx="356.6" cy="468.3" r="0.7" fill="#777" filter="url(#b06)"/>
<circle cx="344.7" cy="479.9" r="0.6" fill="#555" filter="url(#b06)"/>
<circle cx="424.9" cy="394.3" r="0.9" fill="#4a4a4a" filter="url(#b06)"/>
<circle cx="428.5" cy="396.7" r="0.7" fill="#555" filter="url(#b06)"/>
<circle cx="417.6" cy="386.8" r="0.7" fill="#666" filter="url(#b06)"/>
<circle cx="378.7" cy="456.8" r="1.0" fill="#4a4a4a" filter="url(#b06)"/>
<circle cx="383.7" cy="455.1" r="1.0" fill="#777" filter="url(#b06)"/>
<circle cx="404.8" cy="422.0" r="0.9" fill="#555" filter="url(#b06)"/>
<circle cx="400.4" cy="434.7" r="0.6" fill="#777" filter="url(#b06)"/>
<circle cx="427.3" cy="392.7" r="0.7" fill="#4a4a4a" filter="url(#b06)"/>
<circle cx="431.7" cy="374.8" r="0.5" fill="#5a5a5a" filter="url(#b06)"/>
<circle cx="388.8" cy="451.7" r="0.5" fill="#666" filter="url(#b06)"/>
<circle cx="390.4" cy="454.4" r="0.7" fill="#4a4a4a" filter="url(#b06)"/>
<circle cx="416.2" cy="424.5" r="0.5" fill="#555" filter="url(#b06)"/>
<circle cx="361.0" cy="476.6" r="0.9" fill="#5a5a5a" filter="url(#b06)"/>
<circle cx="427.2" cy="379.7" r="0.5" fill="#5a5a5a" filter="url(#b06)"/>
<circle cx="369.3" cy="452.6" r="1.0" fill="#555" filter="url(#b06)"/>
<circle cx="424.3" cy="399.2" r="1.0" fill="#5a5a5a" filter="url(#b06)"/>
<circle cx="424.3" cy="389.1" r="1.0" fill="#5a5a5a" filter="url(#b06)"/>
<circle cx="340.9" cy="472.6" r="0.5" fill="#5a5a5a" filter="url(#b06)"/>
<circle cx="402.5" cy="445.7" r="0.6" fill="#4a4a4a" filter="url(#b06)"/>
<circle cx="394.6" cy="441.5" r="1.0" fill="#5a5a5a" filter="url(#b06)"/>
<circle cx="381.5" cy="445.9" r="0.6" fill="#666" filter="url(#b06)"/>
<circle cx="360.8" cy="459.5" r="0.6" fill="#666" filter="url(#b06)"/>
<circle cx="398.6" cy="440.8" r="0.5" fill="#5a5a5a" filter="url(#b06)"/>
<circle cx="404.6" cy="437.1" r="0.6" fill="#4a4a4a" filter="url(#b06)"/>
<circle cx="342.2" cy="456.7" r="0.7" fill="#5a5a5a" filter="url(#b06)"/>
<circle cx="432.3" cy="379.8" r="0.5" fill="#666" filter="url(#b06)"/>
<circle cx="401.1" cy="433.0" r="1.0" fill="#555" filter="url(#b06)"/>
<circle cx="407.5" cy="441.8" r="0.7" fill="#555" filter="url(#b06)"/>
<circle cx="362.3" cy="473.1" r="0.6" fill="#777" filter="url(#b06)"/>
<circle cx="354.5" cy="475.3" r="0.9" fill="#5a5a5a" filter="url(#b06)"/>
<line x1="371.5" y1="417" x2="384" y2="432" stroke="#3a3a3a" stroke-width="0.9"/>
</g>
<rect x="437" y="345" width="102.8" height="136.6" fill="#181818"/>
<g clip-path="url(#cE2)">
<rect x="437" y="345" width="103" height="60" fill="url(#gE2)"/>
<circle cx="508.5" cy="448.5" r="51" stroke="#2a2a2a" stroke-width="24" fill="none" filter="url(#b5)"/>
<circle cx="508.5" cy="448.5" r="35" fill="#0e0e0e" filter="url(#b5)"/>
<ellipse cx="501.8" cy="388" rx="3.6" ry="2.6" fill="#8a8a8a" filter="url(#b1)"/>
<ellipse cx="490.5" cy="403.5" rx="5" ry="4.2" fill="#555" filter="url(#b1)"/>
<ellipse cx="459" cy="416.5" rx="3.2" ry="4.2" fill="#7e7e7e" filter="url(#b1)"/>
<ellipse cx="459" cy="447" rx="3.6" ry="3.6" fill="#828282" filter="url(#b1)"/>
<ellipse cx="531.5" cy="398" rx="3" ry="3" fill="#525252" filter="url(#b1)"/>
<ellipse cx="530" cy="413" rx="3.6" ry="4.6" fill="#4c4c4c" filter="url(#b1)"/>
<ellipse cx="538" cy="424" rx="2.5" ry="4" fill="#444" filter="url(#b1)"/>
<ellipse cx="465.5" cy="440" rx="1.6" ry="1.6" fill="#606060" filter="url(#b1)"/>
<ellipse cx="476" cy="470" rx="3" ry="3" fill="#3c3c3c" filter="url(#b1)"/>
<ellipse cx="468" cy="459.5" rx="1.5" ry="1.5" fill="#5a5a5a" filter="url(#b1)"/>
<ellipse cx="478" cy="385" rx="5" ry="3" fill="#333" filter="url(#b1)"/>
<ellipse cx="516" cy="392" rx="4" ry="2.5" fill="#3a3a3a" filter="url(#b1)"/>
<circle cx="462.7" cy="423.1" r="0.6" fill="#505050" filter="url(#b06)"/>
<circle cx="530.1" cy="403.2" r="0.6" fill="#505050" filter="url(#b06)"/>
<circle cx="467.5" cy="415.1" r="0.6" fill="#505050" filter="url(#b06)"/>
<circle cx="460.4" cy="466.1" r="0.6" fill="#505050" filter="url(#b06)"/>
<circle cx="481.1" cy="398.0" r="0.6" fill="#505050" filter="url(#b06)"/>
<circle cx="471.1" cy="476.4" r="0.6" fill="#505050" filter="url(#b06)"/>
<circle cx="462.5" cy="483.6" r="0.6" fill="#505050" filter="url(#b06)"/>
<circle cx="496.7" cy="409.3" r="0.6" fill="#505050" filter="url(#b06)"/>
<circle cx="544.6" cy="399.1" r="0.6" fill="#505050" filter="url(#b06)"/>
<circle cx="486.7" cy="399.6" r="0.6" fill="#505050" filter="url(#b06)"/>
<circle cx="472.0" cy="465.6" r="0.6" fill="#505050" filter="url(#b06)"/>
<circle cx="478.3" cy="420.4" r="0.6" fill="#505050" filter="url(#b06)"/>
<circle cx="465.7" cy="463.3" r="0.6" fill="#505050" filter="url(#b06)"/>
<circle cx="475.2" cy="486.1" r="0.6" fill="#505050" filter="url(#b06)"/>
<circle cx="456.3" cy="422.1" r="0.6" fill="#505050" filter="url(#b06)"/>
<circle cx="467.8" cy="412.9" r="0.6" fill="#505050" filter="url(#b06)"/>
<circle cx="465.3" cy="415.1" r="0.6" fill="#505050" filter="url(#b06)"/>
<circle cx="468.5" cy="425.5" r="0.6" fill="#505050" filter="url(#b06)"/>
<circle cx="547.4" cy="400.4" r="0.6" fill="#505050" filter="url(#b06)"/>
<circle cx="518.2" cy="393.8" r="0.6" fill="#505050" filter="url(#b06)"/>
<circle cx="463.5" cy="445.5" r="0.6" fill="#505050" filter="url(#b06)"/>
<circle cx="467.0" cy="449.2" r="0.6" fill="#505050" filter="url(#b06)"/>
<circle cx="505.6" cy="399.8" r="0.6" fill="#505050" filter="url(#b06)"/>
<circle cx="518.0" cy="400.9" r="0.6" fill="#505050" filter="url(#b06)"/>
<circle cx="539.3" cy="398.6" r="0.6" fill="#505050" filter="url(#b06)"/>
</g>
<rect x="547.8" y="345" width="102.2" height="136.6" fill="#191919"/>
<g clip-path="url(#cE3)">
<path d="M660,340 C612,366 574,408 572,490" stroke="#2f2f2f" stroke-width="34" fill="none" filter="url(#b5)"/>
<path d="M598,342 C572,360 552,385 548,420" stroke="#222" stroke-width="8" fill="none" filter="url(#b5)"/>
<path d="M540,338 L578,338 L540,384 Z" fill="#101010" filter="url(#b5)"/>
<path d="M656,366 C628,388 597,420 597,455 C597,470 599,480 601,488 L660,488 L660,366 Z" fill="#0b0b0b" filter="url(#b5)"/>
<ellipse cx="631.5" cy="350" rx="4" ry="2.4" fill="#6c6c6c" filter="url(#b1)"/>
<ellipse cx="638.5" cy="362.5" rx="3" ry="2.6" fill="#5c5c5c" filter="url(#b1)"/>
<ellipse cx="604.2" cy="373.2" rx="3.2" ry="2.4" fill="#8a8a8a" filter="url(#b1)"/>
<ellipse cx="625.3" cy="379.4" rx="3.4" ry="2.6" fill="#8c8c8c" filter="url(#b1)"/>
<ellipse cx="585" cy="385" rx="3" ry="2.8" fill="#808080" filter="url(#b1)"/>
<ellipse cx="596.3" cy="395" rx="3.4" ry="2.4" fill="#858585" filter="url(#b1)"/>
<ellipse cx="561" cy="418.8" rx="2.4" ry="4.6" fill="#686868" filter="url(#b1)"/>
<ellipse cx="558.3" cy="461" rx="2.4" ry="4.4" fill="#686868" filter="url(#b1)"/>
<ellipse cx="572.4" cy="448.4" rx="2.2" ry="3.6" fill="#4c4c4c" filter="url(#b1)"/>
<ellipse cx="574" cy="470" rx="2.2" ry="3" fill="#464646" filter="url(#b1)"/>
<ellipse cx="649" cy="365" rx="1.2" ry="1.2" fill="#777" filter="url(#b1)"/>
<circle cx="584.8" cy="439.6" r="0.6" fill="#585858" filter="url(#b06)"/>
<circle cx="583.8" cy="455.8" r="0.6" fill="#585858" filter="url(#b06)"/>
<circle cx="584.8" cy="450.6" r="0.6" fill="#585858" filter="url(#b06)"/>
<circle cx="607.4" cy="384.0" r="0.6" fill="#585858" filter="url(#b06)"/>
<circle cx="575.4" cy="469.7" r="0.6" fill="#585858" filter="url(#b06)"/>
<circle cx="565.2" cy="465.7" r="0.6" fill="#585858" filter="url(#b06)"/>
<circle cx="580.7" cy="425.2" r="0.6" fill="#585858" filter="url(#b06)"/>
<circle cx="584.3" cy="432.2" r="0.6" fill="#585858" filter="url(#b06)"/>
<circle cx="603.4" cy="382.5" r="0.6" fill="#585858" filter="url(#b06)"/>
<circle cx="602.7" cy="407.5" r="0.6" fill="#585858" filter="url(#b06)"/>
<circle cx="568.9" cy="453.0" r="0.6" fill="#585858" filter="url(#b06)"/>
<circle cx="567.7" cy="456.0" r="0.6" fill="#585858" filter="url(#b06)"/>
<circle cx="572.7" cy="439.1" r="0.6" fill="#585858" filter="url(#b06)"/>
<circle cx="617.2" cy="381.4" r="0.6" fill="#585858" filter="url(#b06)"/>
<circle cx="592.3" cy="400.9" r="0.6" fill="#585858" filter="url(#b06)"/>
<circle cx="579.5" cy="473.4" r="0.6" fill="#585858" filter="url(#b06)"/>
<circle cx="603.2" cy="408.4" r="0.6" fill="#585858" filter="url(#b06)"/>
<circle cx="586.5" cy="431.8" r="0.6" fill="#585858" filter="url(#b06)"/>
<circle cx="607.1" cy="400.4" r="0.6" fill="#585858" filter="url(#b06)"/>
<circle cx="587.1" cy="446.0" r="0.6" fill="#585858" filter="url(#b06)"/>
<circle cx="569.0" cy="465.0" r="0.6" fill="#585858" filter="url(#b06)"/>
<circle cx="583.8" cy="415.1" r="0.6" fill="#585858" filter="url(#b06)"/>
</g>
<rect x="613.2" y="470" width="25.9" height="3.1" fill="#fff"/>
</g>
<g id="panelF">
<path d="M746.5,319.05 V472.3 H976.5" stroke="#000" stroke-width="1.5" fill="none" />
<line x1="742.5" y1="472.3" x2="746.5" y2="472.3" stroke="#000" stroke-width="1.5" stroke-linecap="butt"/>
<text x="728.5" y="476.5" font-size="11.7" font-weight="bold" text-anchor="start" fill="#000" textLength="11.8" lengthAdjust="spacingAndGlyphs">-5</text>
<line x1="742.5" y1="441.8" x2="746.5" y2="441.8" stroke="#000" stroke-width="1.5" stroke-linecap="butt"/>
<text x="732.3" y="446.0" font-size="11.7" font-weight="bold" text-anchor="start" fill="#000" textLength="8.0" lengthAdjust="spacingAndGlyphs">0</text>
<line x1="742.5" y1="411.3" x2="746.5" y2="411.3" stroke="#000" stroke-width="1.5" stroke-linecap="butt"/>
<text x="732.3" y="415.5" font-size="11.7" font-weight="bold" text-anchor="start" fill="#000" textLength="8.0" lengthAdjust="spacingAndGlyphs">5</text>
<line x1="742.5" y1="380.8" x2="746.5" y2="380.8" stroke="#000" stroke-width="1.5" stroke-linecap="butt"/>
<text x="724.3" y="385.0" font-size="11.7" font-weight="bold" text-anchor="start" fill="#000" textLength="16.0" lengthAdjust="spacingAndGlyphs">10</text>
<line x1="742.5" y1="350.3" x2="746.5" y2="350.3" stroke="#000" stroke-width="1.5" stroke-linecap="butt"/>
<text x="724.3" y="354.5" font-size="11.7" font-weight="bold" text-anchor="start" fill="#000" textLength="16.0" lengthAdjust="spacingAndGlyphs">15</text>
<line x1="742.5" y1="319.8" x2="746.5" y2="319.8" stroke="#000" stroke-width="1.5" stroke-linecap="butt"/>
<text x="724.3" y="324.0" font-size="11.7" font-weight="bold" text-anchor="start" fill="#000" textLength="16.0" lengthAdjust="spacingAndGlyphs">20</text>
<line x1="792.6" y1="472.3" x2="792.6" y2="476.3" stroke="#000" stroke-width="1.5" stroke-linecap="butt"/>
<line x1="861.2" y1="472.3" x2="861.2" y2="476.3" stroke="#000" stroke-width="1.5" stroke-linecap="butt"/>
<line x1="930.3" y1="472.3" x2="930.3" y2="476.3" stroke="#000" stroke-width="1.5" stroke-linecap="butt"/>
<text x="716.4" y="479.0" font-size="12" font-weight="bold" text-anchor="start" fill="#000" transform="rotate(-90 716.4 479.0)" textLength="168.2" lengthAdjust="spacingAndGlyphs">SKN-1::GFP nuclei/worm</text>
<circle cx="787.9" cy="350.3" r="3.4" fill="#1a7f9c"/>
<circle cx="797.1" cy="350.3" r="3.4" fill="#1a7f9c"/>
<circle cx="792.6" cy="393.0" r="3.4" fill="#1a7f9c"/>
<circle cx="792.6" cy="405.2" r="3.4" fill="#1a7f9c"/>
<circle cx="792.6" cy="417.4" r="3.4" fill="#1a7f9c"/>
<circle cx="788" cy="423.5" r="3.4" fill="#1a7f9c"/>
<circle cx="797.2" cy="429.6" r="3.4" fill="#1a7f9c"/>
<circle cx="783.3" cy="435.7" r="3.4" fill="#1a7f9c"/>
<circle cx="801.7" cy="435.7" r="3.4" fill="#1a7f9c"/>
<circle cx="792.6" cy="441.8" r="3.4" fill="#1a7f9c"/>
<line x1="792.6" y1="374.39" x2="792.6" y2="442.11" stroke="#1a7f9c" stroke-width="1.6" stroke-linecap="butt"/>
<line x1="781.4" y1="374.39" x2="803.8000000000001" y2="374.39" stroke="#1a7f9c" stroke-width="1.6" stroke-linecap="butt"/>
<line x1="781.4" y1="442.11" x2="803.8000000000001" y2="442.11" stroke="#1a7f9c" stroke-width="1.6" stroke-linecap="butt"/>
<line x1="769.6" y1="408.25" x2="815.6" y2="408.25" stroke="#000" stroke-width="2.0" stroke-linecap="butt"/>
<rect x="849.4" y="335.1" width="6" height="6" fill="#f26a13"/>
<rect x="858.3" y="341.2" width="6" height="6" fill="#f26a13"/>
<rect x="867.5" y="341.2" width="6" height="6" fill="#f26a13"/>
<rect x="853.9" y="353.4" width="6" height="6" fill="#f26a13"/>
<rect x="863.0" y="353.4" width="6" height="6" fill="#f26a13"/>
<rect x="863.0" y="365.6" width="6" height="6" fill="#f26a13"/>
<rect x="853.9" y="371.7" width="6" height="6" fill="#f26a13"/>
<rect x="853.9" y="383.9" width="6" height="6" fill="#f26a13"/>
<rect x="863.0" y="390.0" width="6" height="6" fill="#f26a13"/>
<rect x="858.3" y="414.4" width="6" height="6" fill="#f26a13"/>
<line x1="861.3" y1="342.98" x2="861.3" y2="394.22" stroke="#f26a13" stroke-width="1.6" stroke-linecap="butt"/>
<line x1="850.0999999999999" y1="342.98" x2="872.5" y2="342.98" stroke="#f26a13" stroke-width="1.6" stroke-linecap="butt"/>
<line x1="850.0999999999999" y1="394.22" x2="872.5" y2="394.22" stroke="#f26a13" stroke-width="1.6" stroke-linecap="butt"/>
<line x1="838.3" y1="367.99" x2="884.3" y2="367.99" stroke="#000" stroke-width="2.0" stroke-linecap="butt"/>
<path d="M939.6,340.6 L943.1,346.8 L936.1,346.8 Z" fill="#ee1c25"/>
<path d="M921.2,346.7 L924.7,352.9 L917.7,352.9 Z" fill="#ee1c25"/>
<path d="M930.4,346.7 L933.9,352.9 L926.9,352.9 Z" fill="#ee1c25"/>
<path d="M925.9,358.9 L929.4,365.1 L922.4,365.1 Z" fill="#ee1c25"/>
<path d="M935.1,358.9 L938.6,365.1 L931.6,365.1 Z" fill="#ee1c25"/>
<path d="M916.5,389.4 L920.0,395.6 L913.0,395.6 Z" fill="#ee1c25"/>
<path d="M944.3,389.4 L947.8,395.6 L940.8,395.6 Z" fill="#ee1c25"/>
<path d="M925.9,395.5 L929.4,401.7 L922.4,401.7 Z" fill="#ee1c25"/>
<path d="M935.1,395.5 L938.6,401.7 L931.6,401.7 Z" fill="#ee1c25"/>
<path d="M930.4,419.9 L933.9,426.1 L926.9,426.1 Z" fill="#ee1c25"/>
<line x1="930.4" y1="350.61" x2="930.4" y2="405.5" stroke="#ee1c25" stroke-width="1.6" stroke-linecap="butt"/>
<line x1="919.1999999999999" y1="350.61" x2="941.6" y2="350.61" stroke="#ee1c25" stroke-width="1.6" stroke-linecap="butt"/>
<line x1="919.1999999999999" y1="405.5" x2="941.6" y2="405.5" stroke="#ee1c25" stroke-width="1.6" stroke-linecap="butt"/>
<line x1="907.4" y1="377.75" x2="953.4" y2="377.75" stroke="#000" stroke-width="2.0" stroke-linecap="butt"/>
<path d="M789.8,333.9 V312 H861.1 V324.2" stroke="#000" stroke-width="2.1" fill="none" />
<path d="M866.6,324.8 V311.4 H929.3 V332.4" stroke="#000" stroke-width="2.1" fill="none" />
<text x="817.0" y="308.4" font-size="12.8" font-weight="bold" text-anchor="start" fill="#000" textLength="12.7" lengthAdjust="spacing">**</text>
<text x="886.4" y="303.8" font-size="14.8" font-weight="bold" text-anchor="start" fill="#000" textLength="16.6" lengthAdjust="spacingAndGlyphs">ns</text>
<text x="795.0" y="488" font-size="12" font-weight="bold" text-anchor="end" fill="#000" transform="rotate(-45 795.0 488)" textLength="52.8" lengthAdjust="spacingAndGlyphs">-PQ-gluc</text>
<text x="863.6" y="488" font-size="12" font-weight="bold" text-anchor="end" fill="#000" transform="rotate(-45 863.6 488)" textLength="56.5" lengthAdjust="spacingAndGlyphs">+PQ-gluc</text>
<text x="932.6999999999999" y="488" font-size="12" font-weight="bold" text-anchor="end" fill="#000" transform="rotate(-45 932.6999999999999 488)" textLength="60.4" lengthAdjust="spacingAndGlyphs">+PQ+gluc</text>
</g>
</svg>
</body></html>
